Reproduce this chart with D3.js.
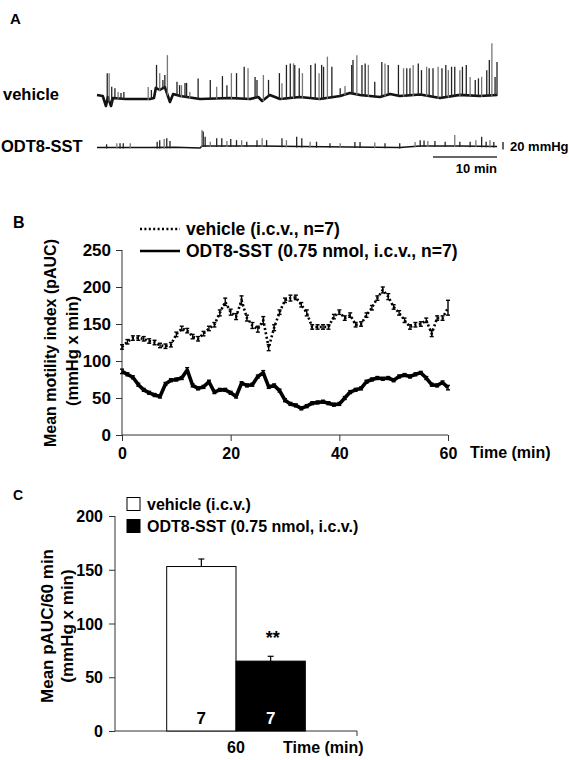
<!DOCTYPE html>
<html><head><meta charset="utf-8">
<script src="https://cdn.jsdelivr.net/npm/d3@7/dist/d3.min.js"></script>
<style>
body{margin:0;background:#fff}
text{font-family:Arial,"Liberation Sans",sans-serif;font-weight:bold;fill:#000}
</style>
</head><body>
<svg id="c" width="569" height="760"></svg>
<script>
// ---------- Panel A: raw traces (time in min, pressure in mmHg) ----------
const vehBaseT = [0,0.9,1.4,1.7,2.2,2.5,4.4,8.3,8.9,9.2,9.8,10.6,11.4,11.9,13.0,16.1,20.8,23.9,25.2,25.8,27.0,28.6,31.7,34.8,38.0,39.5,41.1,44.2,45.8,47.3,50.5,53.6,56.7,59.8,62.5];
const vehBaseP = [10.7,8,-18.7,5.3,-18.7,2.7,0,0,2.7,30,24,32,-8,13.3,8,0,2.7,0,5.3,-5.3,10.7,0,5.3,0,8,16,10.7,5.3,13.3,8,12,2.7,11,8,10.7];
const vehSpikeT = [1.6,1.9,2.3,2.8,3.3,3.75,4.2,8.0,8.5,9.3,9.8,10.3,10.6,11.0,12.5,12.9,13.2,13.75,14.0,14.5,15.8,17.7,18.7,19.6,20.3,21.0,21.8,23.0,23.6,24.7,25.0,26.0,26.8,28.5,28.9,29.6,30.2,30.7,30.9,31.6,32.1,33.4,34.1,34.7,35.1,35.4,36.0,36.7,38.0,38.75,39.8,40.0,40.6,41.4,41.9,42.4,43.4,44.5,45.0,45.5,47.1,47.9,48.4,48.9,49.4,50.2,50.7,51.5,51.9,52.5,53.3,53.9,54.5,54.9,55.4,55.9,56.7,57.1,57.7,58.3,59.1,59.6,60.1,60.9,61.3,61.7,62.2,62.5];
const vehSpikeP = [69,69,33,29,19,16,19,32,24,91,69,51,64,117,46,37,37,43,43,19,55,51,33,61,37,69,69,86,82,59,51,64,51,69,42,91,95,95,91,82,69,91,95,69,91,86,113,86,29,35,91,104,117,91,95,91,46,99,95,91,91,82,82,82,91,95,77,86,82,82,86,82,91,77,86,86,77,86,91,59,51,55,59,77,104,149,59,99];
const odtBaseT = [0,8.3,12.2,16.1,16.4,25.5,31.7,39.5,47.3,50.5,56.7,62.5];
const odtBaseP = [-0.5,-0.5,0,-2,3.5,3.5,2.1,0.8,-0.5,3.5,3.5,2.1];
const odtSpikeT = [1.5,3.1,3.6,4.1,5.2,9.4,9.8,10.5,10.9,11.4,16.4,16.6,16.9,17.7,18.7,19.5,20.3,20.9,21.8,22.6,23.4,25.0,25.8,26.5,28.9,29.6,31.2,32.0,33.3,34.3,36.4,38.0,40.3,41.1,43.4,45.0,47.3,49.7,50.5,51.1,51.7,52.8,54.4,55.9,56.7,58.3,59.2,60.1,60.8,61.4,62.0];
const odtSpikeP = [8,11,11,11,11,15,19,22,24,17,46,42,28,15,24,24,17,22,19,19,15,19,24,19,24,19,28,24,15,15,11,11,14,14,13,11,11,14,19,18,17,17,15,33,15,15,19,28,15,19,14];
const traceLabels = ["vehicle","ODT8-SST"];
const scaleBarMin = 10, scaleBarMmHg = 20;

// ---------- Panel B: time course ----------
const timeB = [0,1,2,3,4,5,6,7,8,9,10,11,12,13,14,15,16,17,18,19,20,21,22,23,24,25,26,27,28,29,30,31,32,33,34,35,36,37,38,39,40,41,42,43,44,45,46,47,48,49,50,51,52,53,54,55,56,57,58,59,60];
const vehicleB = [119,126,131,131,130,127,125,121,120,122,136,144,141,133,130,137,144,149,165,180,166,160,182,158,148,143,155,118,145,166,182,185,186,176,165,146,146,146,146,160,166,158,162,149,150,162,172,185,196,187,173,165,155,146,149,150,155,137,158,158,172];
const vehicleSemB = [3,3,3,3,3,3,3,3,3,3,3,3,3,3,3,3,3,3,4,5,4,4,6,4,4,4,5,4,4,3,3,4,3,3,4,3,3,3,3,3,3,3,3,3,3,3,3,3,4,4,3,3,3,3,3,3,3,4,3,3,10];
const odtB = [86,82,78,68,61,57,54,52,69,74,75,77,88,67,63,65,72,58,61,61,57,52,70,67,68,79,84,65,67,60,47,42,40,36,39,43,44,45,43,41,42,50,58,61,63,72,75,77,76,77,74,79,81,79,82,84,77,68,67,71,64];
const odtSemB = [3,2,2,2,2,2,2,2,2,2,2,2,3,2,2,2,2,2,2,2,2,2,2,2,2,2,3,2,2,2,2,2,2,2,2,2,2,2,2,2,2,2,2,2,2,2,2,2,2,2,2,2,2,2,2,2,2,2,2,2,3];
const ticksBy = [0,50,100,150,200,250];
const ticksBx = [0,20,40,60];
const legendB = ["vehicle (i.c.v., n=7)","ODT8-SST (0.75 nmol, i.c.v., n=7)"];

// ---------- Panel C: bars ----------
const groupsC = ["vehicle (i.c.v.)","ODT8-SST (0.75 nmol, i.c.v.)"];
const meanC = [153,65];
const semC = [7,4.5];
const nC = [7,7];
const catC = ["60"];
const ticksCy = [0,50,100,150,200];

const svg = d3.select("#c");
const ax = "#333";

// ================= Panel A =================
svg.append("text").attr("x",10).attr("y",18).attr("dominant-baseline","central").style("font-size","15px").text("A");
const tA = d3.scaleLinear().domain([0,62.5]).range([97,497]);
const yV = d3.scaleLinear().domain([0,20]).range([99,91.5]);
const yO = d3.scaleLinear().domain([0,20]).range([147.3,139.8]);

function drawTrace(baseT, baseP, spT, spP, ys, bw){
  const baseFn = d3.scaleLinear().domain(baseT).range(baseP).clamp(true);
  const g = svg.append("g");
  g.append("path").datum(baseT.map((t,i)=>[t,baseP[i]]))
    .attr("d", d3.line().x(d=>tA(d[0])).y(d=>ys(d[1])))
    .attr("fill","none").attr("stroke","#111").attr("stroke-width",bw).attr("stroke-linejoin","round");
  g.selectAll("line").data(spT.map((t,i)=>({t, p:spP[i]}))).join("line")
    .attr("x1",d=>tA(d.t)).attr("x2",d=>tA(d.t))
    .attr("y1",d=>ys(baseFn(d.t))+1).attr("y2",d=>ys(d.p))
    .attr("stroke",(d,i)=> i%3===1 ? "#777" : "#222").attr("stroke-width",1.3);
}
drawTrace(vehBaseT, vehBaseP, vehSpikeT, vehSpikeP, yV, 2.6);
drawTrace(odtBaseT, odtBaseP, odtSpikeT, odtSpikeP, yO, 1.6);

svg.append("text").attr("x",3).attr("y",94).attr("dominant-baseline","central").style("font-size","16.5px").text(traceLabels[0]);
svg.append("text").attr("x",1).attr("y",146).attr("dominant-baseline","central").style("font-size","16.5px").text(traceLabels[1]);
// scale bars
svg.append("line").attr("x1",tA(62.5-scaleBarMin)).attr("x2",tA(62.5)).attr("y1",157).attr("y2",157).attr("stroke","#333").attr("stroke-width",1.5);
svg.append("text").attr("x",tA(62.5)).attr("y",168).attr("text-anchor","end").attr("dominant-baseline","central").style("font-size","13px").text(scaleBarMin+" min");
const sbBottom = 149.5;
svg.append("line").attr("x1",503).attr("x2",503).attr("y1",sbBottom).attr("y2",sbBottom-(yO(0)-yO(scaleBarMmHg))).attr("stroke","#333").attr("stroke-width",1.5);
svg.append("text").attr("x",510).attr("y",146).attr("dominant-baseline","central").style("font-size","13px").text(scaleBarMmHg+" mmHg");

// ================= Panel B =================
svg.append("text").attr("x",13).attr("y",222).attr("dominant-baseline","central").style("font-size","16px").text("B");
const xB = d3.scaleLinear().domain([0,60]).range([122,448]);
const yB = d3.scaleLinear().domain([0,250]).range([435,250]);

const gyB = svg.append("g").attr("transform","translate(122,0)")
  .call(d3.axisLeft(yB).tickValues(ticksBy).tickSize(6).tickPadding(5));
const gxB = svg.append("g").attr("transform","translate(0,435)")
  .call(d3.axisBottom(xB).tickValues(ticksBx).tickSize(6).tickPadding(7));
[gyB,gxB].forEach(g=>{
  g.selectAll("path,line").attr("stroke",ax);
  g.selectAll("text").style("font-size","17px").style("font-family","Arial,'Liberation Sans',sans-serif").attr("fill","#000").style("font-weight","bold");
});
gyB.selectAll("text").attr("dy","0.35em");
gxB.selectAll("text").style("font-size","16px");
gyB.select(".domain").attr("d","M0,"+yB(250)+"V"+yB(0));
gxB.select(".domain").attr("d","M"+xB(0)+",0H"+xB(60));

svg.append("text").attr("x",470).attr("y",452).attr("dominant-baseline","central").style("font-size","16px").text("Time (min)");
svg.append("text").attr("transform","translate(50,343) rotate(-90)").attr("text-anchor","middle").attr("dominant-baseline","central").style("font-size","16px").text("Mean motility index (pAUC)");
svg.append("text").attr("transform","translate(72,351) rotate(-90)").attr("text-anchor","middle").attr("dominant-baseline","central").style("font-size","16.5px").text("(mmHg x min)");

function errBars(vals, sems, capW, sw){
  const g = svg.append("g").attr("stroke","#000").attr("stroke-width",sw);
  vals.forEach((v,i)=>{
    const x = xB(timeB[i]);
    g.append("line").attr("x1",x).attr("x2",x).attr("y1",yB(v-sems[i])).attr("y2",yB(v+sems[i]));
    g.append("line").attr("x1",x-capW/2).attr("x2",x+capW/2).attr("y1",yB(v+sems[i])).attr("y2",yB(v+sems[i]));
    g.append("line").attr("x1",x-capW/2).attr("x2",x+capW/2).attr("y1",yB(v-sems[i])).attr("y2",yB(v-sems[i]));
  });
}
errBars(vehicleB, vehicleSemB, 4, 1.4);
svg.append("path").datum(vehicleB)
  .attr("d", d3.line().x((d,i)=>xB(timeB[i])).y(d=>yB(d)))
  .attr("fill","none").attr("stroke","#000").attr("stroke-width",2.6).attr("stroke-dasharray","2,2.4");
errBars(odtB, odtSemB, 4, 1.4);
svg.append("path").datum(odtB)
  .attr("d", d3.line().x((d,i)=>xB(timeB[i])).y(d=>yB(d)))
  .attr("fill","none").attr("stroke","#000").attr("stroke-width",3.6).attr("stroke-linejoin","round");

// legend B
svg.append("line").attr("x1",140).attr("x2",180).attr("y1",229).attr("y2",229).attr("stroke","#000").attr("stroke-width",2.6).attr("stroke-dasharray","2,2.4");
svg.append("line").attr("x1",140).attr("x2",180).attr("y1",251).attr("y2",251).attr("stroke","#000").attr("stroke-width",2.6);
svg.append("text").attr("x",186).attr("y",229).attr("dominant-baseline","central").style("font-size","17.5px").text(legendB[0]);
svg.append("text").attr("x",186).attr("y",251).attr("dominant-baseline","central").style("font-size","17.5px").text(legendB[1]);

// ================= Panel C =================
svg.append("text").attr("x",13).attr("y",495).attr("dominant-baseline","central").style("font-size","14px").text("C");
const yC = d3.scaleLinear().domain([0,200]).range([731,516]);
const xC = d3.scaleBand().domain(catC).range([115,357]);
const xSub = d3.scaleBand().domain(groupsC).range([0,xC.bandwidth()]).paddingInner(0).paddingOuter(0.746);

const gyC = svg.append("g").attr("transform","translate(115,0)")
  .call(d3.axisLeft(yC).tickValues(ticksCy).tickSize(6).tickPadding(6));
gyC.selectAll("path,line").attr("stroke",ax);
gyC.select(".domain").attr("d","M0,"+yC(200)+"V"+yC(0));
gyC.selectAll("text").style("font-size","16px").style("font-family","Arial,'Liberation Sans',sans-serif").style("font-weight","bold").attr("fill","#000").attr("dy","0.35em");
const gxC = svg.append("g").attr("transform","translate(0,731)");
gxC.append("line").attr("x1",xC.range()[0]).attr("x2",xC.range()[1]).attr("y1",0).attr("y2",0).attr("stroke",ax);
gxC.append("line").attr("x1",xC.range()[1]).attr("x2",xC.range()[1]).attr("y1",0).attr("y2",5).attr("stroke",ax);
gxC.append("text").attr("x",xC("60")+xC.bandwidth()/2).attr("y",16).attr("text-anchor","middle").attr("dominant-baseline","central").style("font-size","16px").text(catC[0]);
svg.append("text").attr("x",283).attr("y",747).attr("dominant-baseline","central").style("font-size","16px").text("Time (min)");

const fills = ["#fff","#000"];
groupsC.forEach((g,i)=>{
  const x0 = xC("60") + xSub(g);
  const w = xSub.bandwidth();
  const cx = x0 + w/2;
  svg.append("line").attr("x1",cx).attr("x2",cx).attr("y1",yC(meanC[i])).attr("y2",yC(meanC[i]+semC[i])).attr("stroke","#000").attr("stroke-width",1.2);
  svg.append("line").attr("x1",cx-3).attr("x2",cx+3).attr("y1",yC(meanC[i]+semC[i])).attr("y2",yC(meanC[i]+semC[i])).attr("stroke","#000").attr("stroke-width",1.2);
  svg.append("rect").attr("x",x0).attr("y",yC(meanC[i])).attr("width",w).attr("height",yC(0)-yC(meanC[i]))
    .attr("fill",fills[i]).attr("stroke","#000").attr("stroke-width",1);
  svg.append("text").attr("x",cx).attr("y",718).attr("text-anchor","middle").attr("dominant-baseline","central")
    .style("font-size","17px").style("fill", i===0?"#000":"#fff").text(nC[i]);
});
const odtX = xC("60") + xSub(groupsC[1]) + xSub.bandwidth()/2;
svg.append("text").attr("x",odtX+2).attr("y",yC(meanC[1]+semC[1])-18).attr("text-anchor","middle").attr("dominant-baseline","central").style("font-size","18px").text("**");

// legend C
groupsC.forEach((g,i)=>{
  const y = 504 + i*22;
  svg.append("rect").attr("x",127).attr("y",y-6.5).attr("width",13).attr("height",13).attr("fill",fills[i]).attr("stroke","#000").attr("stroke-width",1);
  svg.append("text").attr("x",147).attr("y",y).attr("dominant-baseline","central").style("font-size","16px").text(g);
});

// y label C
svg.append("text").attr("transform","translate(47,626) rotate(-90)").attr("text-anchor","middle").attr("dominant-baseline","central").style("font-size","17px").text("Mean pAUC/60 min");
svg.append("text").attr("transform","translate(67,626) rotate(-90)").attr("text-anchor","middle").attr("dominant-baseline","central").style("font-size","17px").text("(mmHg x min)");
</script>
</body></html>
